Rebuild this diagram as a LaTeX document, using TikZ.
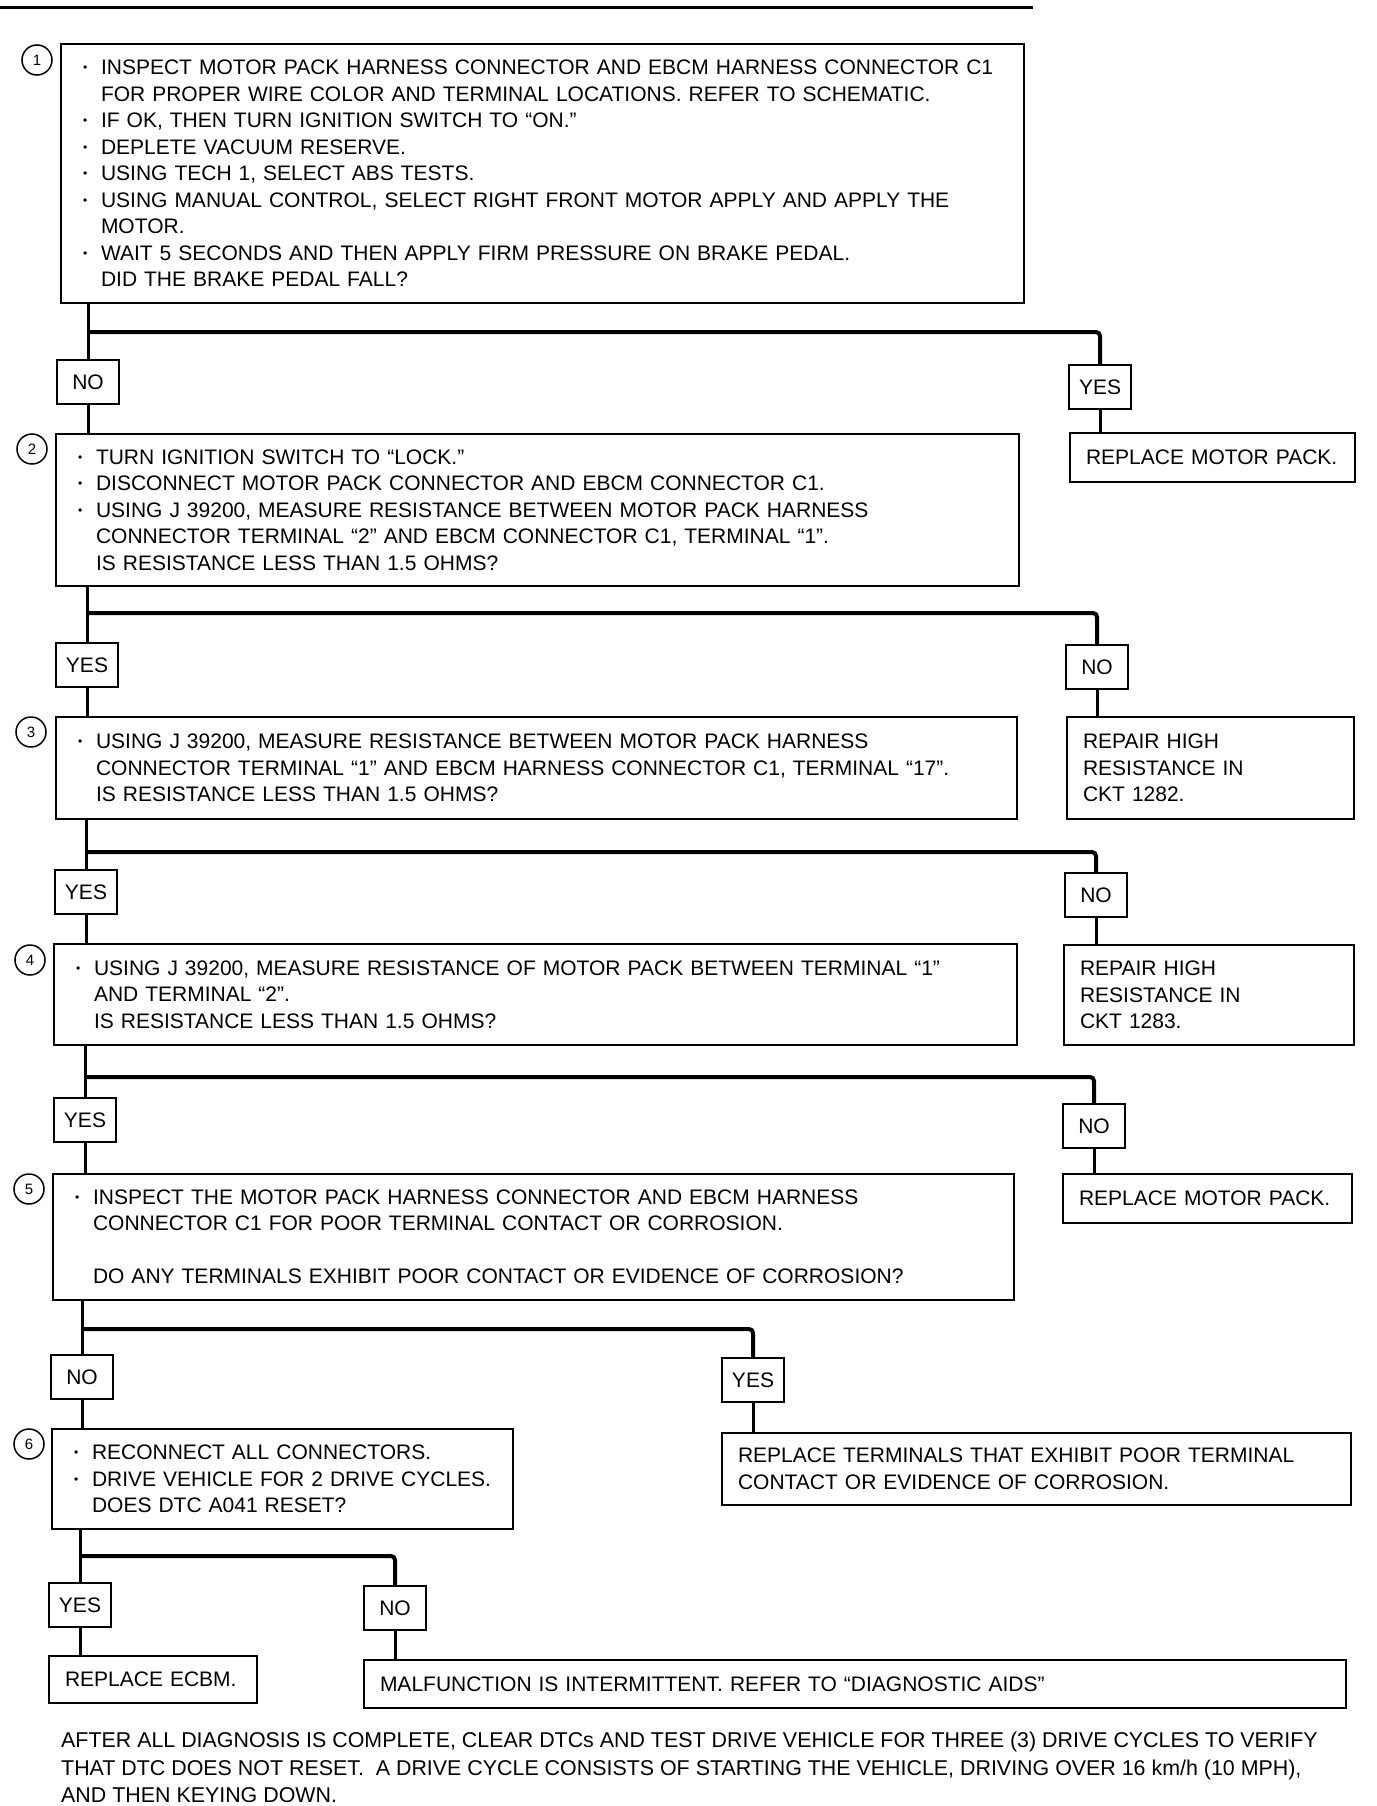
\documentclass[tikz,border=0pt]{standalone}
\usepackage{fontspec}
\setmainfont{Liberation Sans}
\newcommand{\bitem}{\makebox[18pt][l]{\raisebox{3pt}{\fontsize{12}{12}\selectfont •}}}
\newcommand{\bcont}{\hspace*{18pt}}
\begin{document}
\begin{tikzpicture}[x=1pt, y=-1pt,
        box/.style={draw, line width=2pt, anchor=north west, align=left,
            inner xsep=22pt, inner ysep=0pt},
        endbox/.style={box, inner xsep=16pt},
        lbl/.style={draw, line width=2pt, minimum width=62pt,
            minimum height=44pt, inner sep=0pt},
        num/.style={draw, circle, line width=1.5pt, minimum size=30pt,
            inner sep=0pt, font=\fontsize{15}{15}\selectfont},
        conn/.style={line width=3pt},
        branch/.style={line width=4pt, rounded corners=4pt},
        every node/.style={font=\fontsize{21}{26.5}\selectfont}]
    \useasboundingbox (0,0) rectangle (1376,1806);
    \draw[line width=3pt] (0,8) -- (1033,8);

    % step boxes
    \node[box, text width=919pt, minimum height=259pt] (b1) at (60,43) {%
        \bitem INSPECT MOTOR PACK HARNESS CONNECTOR AND EBCM HARNESS CONNECTOR C1\\
        \bcont FOR PROPER WIRE COLOR AND TERMINAL LOCATIONS. REFER TO SCHEMATIC.\\
        \bitem IF OK, THEN TURN IGNITION SWITCH TO “ON.”\\
        \bitem DEPLETE VACUUM RESERVE.\\
        \bitem USING TECH 1, SELECT ABS TESTS.\\
        \bitem USING MANUAL CONTROL, SELECT RIGHT FRONT MOTOR APPLY AND APPLY THE\\
        \bcont MOTOR.\\
        \bitem WAIT 5 SECONDS AND THEN APPLY FIRM PRESSURE ON BRAKE PEDAL.\\
        \bcont DID THE BRAKE PEDAL FALL?};
    \node[box, text width=919pt, minimum height=152pt] (b2) at (55,433) {%
        \bitem TURN IGNITION SWITCH TO “LOCK.”\\
        \bitem DISCONNECT MOTOR PACK CONNECTOR AND EBCM CONNECTOR C1.\\
        \bitem USING J 39200, MEASURE RESISTANCE BETWEEN MOTOR PACK HARNESS\\
        \bcont CONNECTOR TERMINAL “2” AND EBCM CONNECTOR C1, TERMINAL “1”.\\
        \bcont IS RESISTANCE LESS THAN 1.5 OHMS?};
    \node[box, text width=917pt, minimum height=102pt] (b3) at (55,716) {%
        \bitem USING J 39200, MEASURE RESISTANCE BETWEEN MOTOR PACK HARNESS\\
        \bcont CONNECTOR TERMINAL “1” AND EBCM HARNESS CONNECTOR C1, TERMINAL “17”.\\
        \bcont IS RESISTANCE LESS THAN 1.5 OHMS?};
    \node[box, text width=919pt, minimum height=101pt] (b4) at (53,943) {%
        \bitem USING J 39200, MEASURE RESISTANCE OF MOTOR PACK BETWEEN TERMINAL “1”\\
        \bcont AND TERMINAL “2”.\\
        \bcont IS RESISTANCE LESS THAN 1.5 OHMS?};
    \node[box, text width=917pt, minimum height=126pt] (b5) at (52,1173) {%
        \bitem INSPECT THE MOTOR PACK HARNESS CONNECTOR AND EBCM HARNESS\\
        \bcont CONNECTOR C1 FOR POOR TERMINAL CONTACT OR CORROSION.\\[26.5pt]
        \bcont DO ANY TERMINALS EXHIBIT POOR CONTACT OR EVIDENCE OF CORROSION?};
    \node[box, text width=417pt, minimum height=100pt] (b6) at (51,1428) {%
        \bitem RECONNECT ALL CONNECTORS.\\
        \mbox{\bitem DRIVE VEHICLE FOR 2 DRIVE CYCLES.}\\
        \bcont DOES DTC A041 RESET?};

    % step numbers
    \node[num] (c1) at (37,60) {1};
    \node[num] (c2) at (32,449) {2};
    \node[num] (c3) at (31,732) {3};
    \node[num] (c4) at (30,960) {4};
    \node[num] (c5) at (29,1189) {5};
    \node[num] (c6) at (29,1444) {6};

    % end boxes
    \node[endbox, text width=253pt, minimum height=49pt] (r1) at (1069,432) {REPLACE MOTOR PACK.};
    \node[endbox, text width=255pt, minimum height=102pt] (r3) at (1066,716) {REPAIR HIGH\\RESISTANCE IN\\CKT 1282.};
    \node[endbox, text width=258pt, minimum height=100pt] (r4) at (1063,944) {REPAIR HIGH\\RESISTANCE IN\\CKT 1283.};
    \node[endbox, text width=257pt, minimum height=49pt] (r5) at (1062,1173) {REPLACE MOTOR PACK.};
    \node[endbox, text width=597pt, minimum height=72pt] (r6) at (721,1432) {%
        REPLACE TERMINALS THAT EXHIBIT POOR TERMINAL\\CONTACT OR EVIDENCE OF CORROSION.};
    \node[endbox, text width=176pt, minimum height=47pt] (r7) at (48,1655) {REPLACE ECBM.};
    \node[endbox, text width=950pt, minimum height=48pt] (r8) at (363,1659) {%
        MALFUNCTION IS INTERMITTENT. REFER TO “DIAGNOSTIC AIDS”};

    % answers
    \node[lbl] (n1) at (88,382) {NO};
    \node[lbl] (y1) at (1100,387) {YES};
    \node[lbl] (y2) at (87,665) {YES};
    \node[lbl] (n2) at (1097,667) {NO};
    \node[lbl] (y3) at (86,892) {YES};
    \node[lbl] (n3) at (1096,895) {NO};
    \node[lbl] (y4) at (85,1120) {YES};
    \node[lbl] (n4) at (1094,1126) {NO};
    \node[lbl] (n5) at (82,1377) {NO};
    \node[lbl] (y5) at (753,1380) {YES};
    \node[lbl] (y6) at (80,1605) {YES};
    \node[lbl] (n6) at (395,1608) {NO};

    % junctions
    \coordinate (j1) at (88,332);
    \coordinate (j2) at (87,613);
    \coordinate (j3) at (86,852);
    \coordinate (j4) at (85,1077);
    \coordinate (j5) at (82,1329);
    \coordinate (j6) at (80,1556);

    \draw[conn] (b1.south -| n1) -- (n1.north);
    \draw[branch] (j1) -| (y1.north);
    \draw[conn] (n1.south) -- (b2.north -| n1);
    \draw[conn] (y1.south) -- (r1.north -| y1);

    \draw[conn] (b2.south -| y2) -- (y2.north);
    \draw[branch] (j2) -| (n2.north);
    \draw[conn] (y2.south) -- (b3.north -| y2);
    \draw[conn] (n2.south) -- (r3.north -| n2);

    \draw[conn] (b3.south -| y3) -- (y3.north);
    \draw[branch] (j3) -| (n3.north);
    \draw[conn] (y3.south) -- (b4.north -| y3);
    \draw[conn] (n3.south) -- (r4.north -| n3);

    \draw[conn] (b4.south -| y4) -- (y4.north);
    \draw[branch] (j4) -| (n4.north);
    \draw[conn] (y4.south) -- (b5.north -| y4);
    \draw[conn] (n4.south) -- (r5.north -| n4);

    \draw[conn] (b5.south -| n5) -- (n5.north);
    \draw[branch] (j5) -| (y5.north);
    \draw[conn] (n5.south) -- (b6.north -| n5);
    \draw[conn] (y5.south) -- (r6.north -| y5);

    \draw[conn] (b6.south -| y6) -- (y6.north);
    \draw[branch] (j6) -| (n6.north);
    \draw[conn] (y6.south) -- (r7.north -| y6);
    \draw[conn] (n6.south) -- (r8.north -| n6);

    \node[anchor=north west, align=left, inner sep=0pt,
        font=\fontsize{21.4}{27.6}\selectfont] (note) at (61,1732) {%
        AFTER ALL DIAGNOSIS IS COMPLETE, CLEAR DTCs AND TEST DRIVE VEHICLE FOR THREE (3) DRIVE CYCLES TO VERIFY\\
        THAT DTC DOES NOT RESET.\ \ A DRIVE CYCLE CONSISTS OF STARTING THE VEHICLE, DRIVING OVER 16 km/h (10 MPH),\\
        AND THEN KEYING DOWN.};
\end{tikzpicture}
\end{document}
